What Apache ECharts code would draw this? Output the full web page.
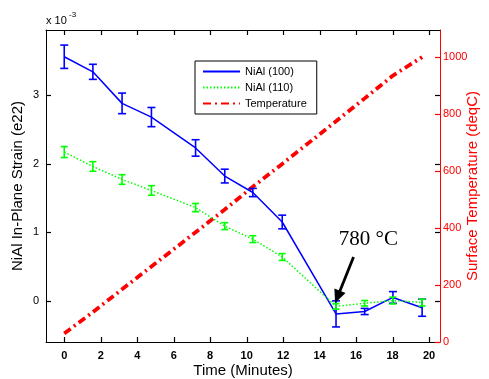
<!DOCTYPE html>
<html>
<head>
<meta charset="utf-8">
<script src="https://cdn.jsdelivr.net/npm/echarts@6/dist/echarts.min.js"></script>
<style>html,body{margin:0;padding:0;background:#fff;}#c{width:489px;height:379px;}</style>
</head>
<body>
<div id="c"></div>
<script>
// Data (strain in units of 1e-3)
const timeMin = [0, 1.57, 3.17, 4.78, 7.2, 8.8, 10.34, 11.95, 14.9, 16.47, 18.02, 19.62];
const strain100 = [3.56, 3.34, 2.88, 2.68, 2.23, 1.82, 1.58, 1.15, -0.19, -0.155, 0.05, -0.1];
const err100 = [0.17, 0.11, 0.15, 0.14, 0.12, 0.1, 0.06, 0.1, 0.19, 0.045, 0.085, 0.125];
const strain110 = [2.17, 1.96, 1.77, 1.61, 1.36, 1.09, 0.90, 0.64, -0.08, -0.035, 0.005, -0.025];
const err110 = [0.08, 0.07, 0.07, 0.07, 0.06, 0.05, 0.05, 0.05, 0.04, 0.04, 0.05, 0.05];
const temperature = [30, 105, 185, 265, 385, 465, 545, 625, 775, 855, 935, 1000];
const xTicks = [0, 2, 4, 6, 8, 10, 12, 14, 16, 18, 20];
const strainTicks = [0, 1, 2, 3];
const tempTicks = [0, 200, 400, 600, 800, 1000];
const annotationText = '780 °C';

const FONT = 'Arial, "Liberation Sans", sans-serif';
const GRID = {left: 46, top: 30, right: 49, bottom: 37};
const W = 489, H = 379;
const chart = echarts.init(document.getElementById('c'), null, {renderer: 'canvas'});

function errData(vals, errs) {
  return timeMin.map((t, i) => [t, vals[i] - errs[i], vals[i] + errs[i]]);
}
function errRender(color, capW, lw) {
  return function (params, api) {
    const x = api.value(0), lo = api.value(1), hi = api.value(2);
    const pt = api.coord([x, hi]);
    const pb = api.coord([x, lo]);
    const h = capW / 2;
    const st = {stroke: color, lineWidth: lw};
    return {type: 'group', children: [
      {type: 'line', shape: {x1: pt[0], y1: pt[1], x2: pb[0], y2: pb[1]}, style: st},
      {type: 'line', shape: {x1: pt[0] - h, y1: pt[1], x2: pt[0] + h, y2: pt[1]}, style: st},
      {type: 'line', shape: {x1: pb[0] - h, y1: pb[1], x2: pb[0] + h, y2: pb[1]}, style: st}
    ]};
  };
}

const option = {
  animation: false,
  backgroundColor: '#fff',
  grid: {left: GRID.left, top: GRID.top, right: GRID.right, bottom: GRID.bottom, containLabel: false, outerBoundsMode: 'none'},
  legend: {
    orient: 'vertical', left: 195, top: 61,
    data: ['NiAl (100)', 'NiAl (110)', 'Temperature'],
    itemWidth: 37, itemHeight: 12, itemGap: 5,
    padding: [5, 10, 5, 7],
    borderColor: '#000', borderWidth: 1, backgroundColor: '#fff',
    itemStyle: {opacity: 0},
    textStyle: {fontFamily: FONT, fontSize: 11, color: '#000'}
  },
  xAxis: [
    {type: 'value', position: 'bottom', min: -1, max: 20.6,
     name: 'Time (Minutes)', nameLocation: 'middle', nameGap: 21, nameMoveOverlap: false,
     nameTextStyle: {fontFamily: FONT, fontSize: 15, color: '#000'},
     axisLine: {show: true, onZero: false, lineStyle: {color: '#000', width: 1}},
     axisTick: {show: false},
     axisLabel: {show: true, customValues: xTicks, margin: 8, fontFamily: FONT, fontSize: 11, fontWeight: 'bold', color: '#000'},
     splitLine: {show: false}},
    {type: 'value', position: 'top', min: -1, max: 20.6,
     axisLine: {show: true, onZero: false, lineStyle: {color: '#000', width: 1}},
     axisTick: {show: false},
     axisLabel: {show: false}, splitLine: {show: false}}
  ],
  yAxis: [
    {type: 'value', position: 'left', min: -0.6, max: 3.95,
     name: 'NiAl In-Plane Strain (e22)', nameLocation: 'middle', nameGap: 21, nameMoveOverlap: false,
     nameTextStyle: {fontFamily: FONT, fontSize: 15, color: '#000'},
     axisLine: {show: true, onZero: false, lineStyle: {color: '#000', width: 1}},
     axisTick: {show: false},
     axisLabel: {show: true, customValues: strainTicks, margin: 7, fontFamily: FONT, fontSize: 11, color: '#000'},
     splitLine: {show: false}},
    {type: 'value', position: 'right', min: 0, max: 1095,
     name: 'Surface Temperature (deqC)', nameLocation: 'middle', nameGap: 25, nameMoveOverlap: false,
     nameTextStyle: {fontFamily: FONT, fontSize: 15, color: '#ff0000'},
     axisLine: {show: true, onZero: false, lineStyle: {color: '#ff0000', width: 1}},
     axisTick: {show: false},
     axisLabel: {show: true, customValues: tempTicks, margin: 3, fontFamily: FONT, fontSize: 11, color: '#ff0000',
                 formatter: function (v) { return String(v); }},
     splitLine: {show: false}}
  ],
  series: [
    {name: 'Temperature', type: 'line', xAxisIndex: 0, yAxisIndex: 1,
     data: timeMin.map((t, i) => [t, temperature[i]]),
     symbol: 'none', z: 1,
     lineStyle: {color: '#ff0000', width: 3.8, type: [8, 4, 2, 4], cap: 'butt'},
     itemStyle: {color: '#ff0000'}},
    {name: 'NiAl (100)', type: 'line', xAxisIndex: 0, yAxisIndex: 0,
     data: timeMin.map((t, i) => [t, strain100[i]]),
     symbol: 'none', z: 2,
     lineStyle: {color: '#0000ff', width: 1.5}, itemStyle: {color: '#0000ff'}},
    {name: 'err100', type: 'custom', xAxisIndex: 0, yAxisIndex: 0, z: 3,
     data: errData(strain100, err100), encode: {x: 0, y: [1, 2]},
     renderItem: errRender('#0000ff', 8, 1.6)},
    {name: 'NiAl (110)', type: 'line', xAxisIndex: 0, yAxisIndex: 0,
     data: timeMin.map((t, i) => [t, strain110[i]]),
     symbol: 'none', z: 4,
     lineStyle: {color: '#00ff00', width: 1.5, type: [1.5, 2]}, itemStyle: {color: '#00ff00'}},
    {name: 'err110', type: 'custom', xAxisIndex: 0, yAxisIndex: 0, z: 5,
     data: errData(strain110, err110), encode: {x: 0, y: [1, 2]},
     renderItem: errRender('#00ff00', 7, 1.6)}
  ]
};
chart.setOption(option);

// Plot rectangle
const gL = GRID.left, gR = W - GRID.right, gT = GRID.top, gB = H - GRID.bottom;
const TL = 5;
const graphics = [];
function addLine(x1, y1, x2, y2, color) {
  graphics.push({type: 'line', z: 60, shape: {x1: x1, y1: y1, x2: x2, y2: y2},
                 style: {stroke: color, lineWidth: 1.2}});
}
// Inward ticks placed through the axes' scales
xTicks.forEach(function (v) {
  const p = chart.convertToPixel({xAxisIndex: 0, yAxisIndex: 0}, [v, 0]);
  const x = Math.round(p[0]) + 0.5;
  addLine(x, gB, x, gB - TL, '#000');
  addLine(x, gT, x, gT + TL, '#000');
});
strainTicks.forEach(function (v) {
  const p = chart.convertToPixel({xAxisIndex: 0, yAxisIndex: 0}, [0, v]);
  const y = Math.round(p[1]) + 0.5;
  addLine(gL, y, gL + TL, y, '#000');
  addLine(gR, y, gR - TL, y, '#000');
});
tempTicks.forEach(function (v) {
  const p = chart.convertToPixel({xAxisIndex: 0, yAxisIndex: 1}, [0, v]);
  const y = Math.round(p[1]) + 0.5;
  addLine(gR, y, gR - TL, y, '#ff0000');
});

// Annotation arrow and label, positioned from data coordinates
const tip = chart.convertToPixel({xAxisIndex: 0, yAxisIndex: 0}, [14.85, -0.03]);
const tail = chart.convertToPixel({xAxisIndex: 0, yAxisIndex: 0}, [15.86, 0.64]);
const lbl = chart.convertToPixel({xAxisIndex: 0, yAxisIndex: 0}, [16.67, 0.89]);
const dx = tip[0] - tail[0], dy = tip[1] - tail[1];
const len = Math.sqrt(dx * dx + dy * dy);
const ux = dx / len, uy = dy / len;
const headL = 13, headW = 6;
const base = [tip[0] - ux * headL, tip[1] - uy * headL];

graphics.push(
  {type: 'line', z: 50, shape: {x1: tail[0], y1: tail[1], x2: base[0] + ux * 2, y2: base[1] + uy * 2},
   style: {stroke: '#000', lineWidth: 2.8}},
  {type: 'polygon', z: 50, shape: {points: [
    tip,
    [base[0] - uy * headW, base[1] + ux * headW],
    [base[0] + uy * headW, base[1] - ux * headW]
  ]}, style: {fill: '#000'}},
  {type: 'text', z: 50, x: lbl[0], y: lbl[1],
   style: {text: annotationText, fontFamily: '"Liberation Serif", "Times New Roman", serif', fontSize: 21,
           fill: '#000', align: 'center', verticalAlign: 'middle'}},
  {type: 'text', z: 50, x: gL, y: gT - 9,
   style: {text: 'x 10', fontFamily: FONT, fontSize: 11, fill: '#000', align: 'left', verticalAlign: 'middle'}},
  {type: 'text', z: 50, x: gL + 23, y: gT - 15,
   style: {text: '-3', fontFamily: FONT, fontSize: 8, fill: '#000', align: 'left', verticalAlign: 'middle'}}
);

chart.setOption({graphic: graphics});
</script>
</body>
</html>
